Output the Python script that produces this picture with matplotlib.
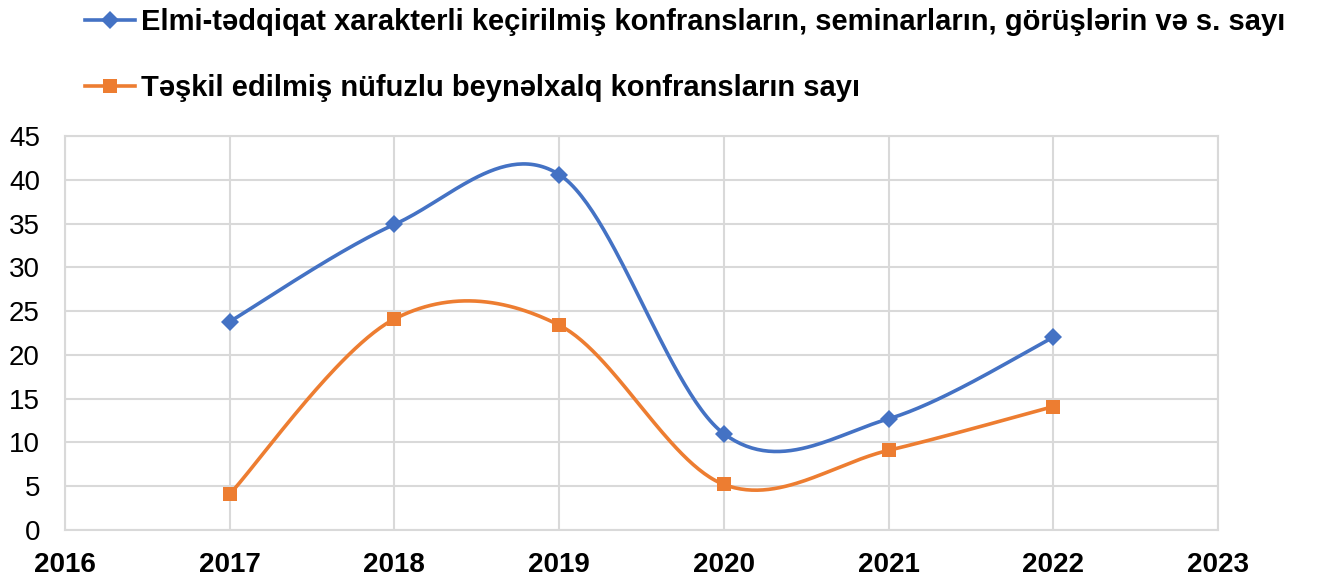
import numpy as np
import matplotlib
matplotlib.use("Agg")
import matplotlib.pyplot as plt
from matplotlib.lines import Line2D

years = [2017, 2018, 2019, 2020, 2021, 2022]
research_events = [23.8, 34.9, 40.6, 11.0, 12.7, 22.0]
intl_conferences = [4.1, 24.1, 23.4, 5.2, 9.1, 14.1]
labels = ["Elmi-tədqiqat xarakterli keçirilmiş konfransların, seminarların, görüşlərin və s. sayı",
          "Təşkil edilmiş nüfuzlu beynəlxalq konfransların sayı"]
x_ticks = [2016, 2017, 2018, 2019, 2020, 2021, 2022, 2023]
y_ticks = [0, 5, 10, 15, 20, 25, 30, 35, 40, 45]

BLUE = "#4472C4"
ORANGE = "#ED7D31"
GRID = "#D9D9D9"

plt.rcParams['font.family'] = ['Liberation Sans', 'DejaVu Sans']


def excel_smooth(xs, ys, n=60):
    xs = np.asarray(xs, float)
    ys = np.asarray(ys, float)
    P = np.column_stack([xs, ys])
    out = []
    for i in range(len(P) - 1):
        p0 = P[i - 1] if i > 0 else P[i]
        p1 = P[i]
        p2 = P[i + 1]
        p3 = P[i + 2] if i + 2 < len(P) else P[i + 1]
        c1 = p1 + (p2 - p0) / 6.0
        c2 = p2 - (p3 - p1) / 6.0
        t = np.linspace(0, 1, n)[:, None]
        seg = ((1 - t) ** 3) * p1 + 3 * ((1 - t) ** 2) * t * c1 + 3 * (1 - t) * t ** 2 * c2 + t ** 3 * p2
        out.append(seg if i == 0 else seg[1:])
    arr = np.vstack(out)
    return arr[:, 0], arr[:, 1]


W, H = 1323, 579
fig = plt.figure(figsize=(W / 100, H / 100), dpi=100)
L, R, T, B = 65, 1218, 136, 530
ax = fig.add_axes([L / W, 1 - B / H, (R - L) / W, (B - T) / H])

ax.set_xlim(2016, 2023)
ax.set_ylim(0, 45)
ax.set_xticks(x_ticks)
ax.set_yticks(y_ticks)
ax.set_xticklabels([str(v) for v in x_ticks], fontsize=20, fontweight='bold')
ax.set_yticklabels([str(v) for v in y_ticks], fontsize=20)
ax.tick_params(axis='both', length=0)
ax.tick_params(axis='y', pad=18)
ax.tick_params(axis='x', pad=16)
ax.grid(True, color=GRID, linewidth=1.5)
ax.set_axisbelow(True)
for s in ax.spines.values():
    s.set_color(GRID)
    s.set_linewidth(1.5)

for ys, col, mk, ms in [(research_events, BLUE, 'D', 9.5), (intl_conferences, ORANGE, 's', 10.5)]:
    sx, sy = excel_smooth(years, ys)
    ax.plot(sx, sy, color=col, linewidth=2.6, solid_capstyle='round', zorder=3)
    ax.plot(years, ys, linestyle='none', marker=mk, markersize=ms, color=col,
            markeredgewidth=0, zorder=4)

handles = [Line2D([], [], color=BLUE, linewidth=2.6, marker='D', markersize=9.5, markeredgewidth=0),
           Line2D([], [], color=ORANGE, linewidth=2.6, marker='s', markersize=10.5, markeredgewidth=0)]
fig.legend(handles, labels, loc='upper left', bbox_to_anchor=(85 / W, 1 - 8.5 / H),
           frameon=False, borderpad=0, borderaxespad=0, handlelength=1.7, handletextpad=0.21,
           labelspacing=1.3, prop={'size': 21, 'weight': 'bold'})

fig.savefig("out.png", dpi=100)
